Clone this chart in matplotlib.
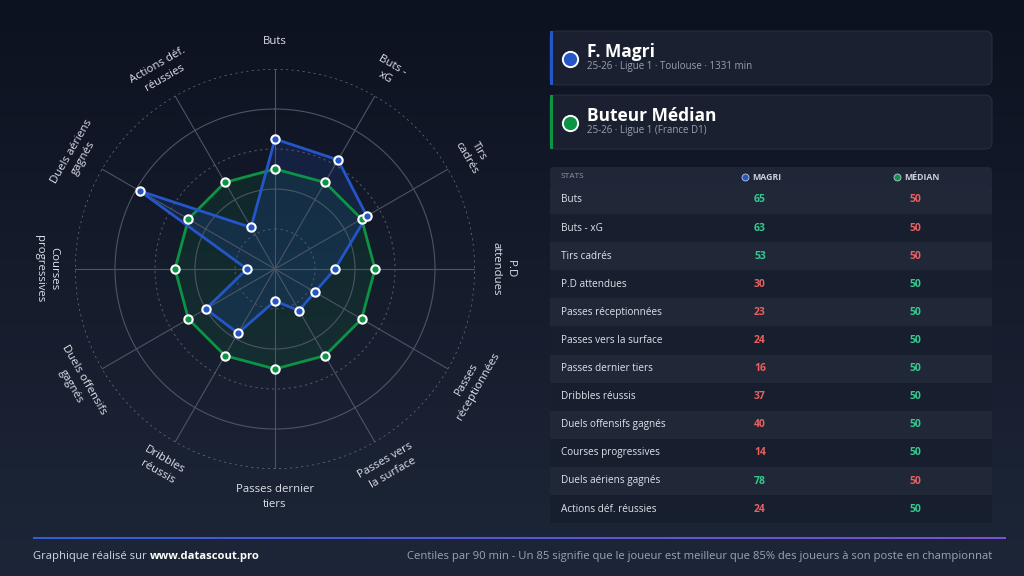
import numpy as np
import matplotlib
matplotlib.use("Agg")
import matplotlib.pyplot as plt
from matplotlib.patches import FancyBboxPatch, Rectangle
from matplotlib.colors import LinearSegmentedColormap

plt.rcParams['font.family'] = ['Open Sans', 'DejaVu Sans']

# data
stats = ["Buts", "Buts - xG", "Tirs cadrés", "P.D attendues", "Passes réceptionnées",
         "Passes vers la surface", "Passes dernier tiers", "Dribbles réussis",
         "Duels offensifs gagnés", "Courses progressives", "Duels aériens gagnés",
         "Actions déf. réussies"]
radar_labels = ["Buts", "Buts -\nxG", "Tirs\ncadrés", "P.D\nattendues", "Passes\nréceptionnées",
                "Passes vers\nla surface", "Passes dernier\ntiers", "Dribbles\nréussis",
                "Duels offensifs\ngagnés", "Courses\nprogressives", "Duels aériens\ngagnés",
                "Actions déf.\nréussies"]
magri = [65, 63, 53, 30, 23, 24, 16, 37, 40, 14, 78, 24]
median = [50, 50, 50, 50, 50, 50, 50, 50, 50, 50, 50, 50]

BLUE = "#2456c8"
GREEN = "#0b9444"
POS = "#35c98f"
NEG = "#e8605f"
GRID = "#4c5465"

W, H = 1024, 576
fig = plt.figure(figsize=(W / 100, H / 100), dpi=100)

# background gradient
bg = fig.add_axes([0, 0, 1, 1], zorder=0)
bg_cmap = LinearSegmentedColormap.from_list("bg", ["#0d1220", "#1d2638"])
bg.imshow(np.linspace(0, 1, 256).reshape(-1, 1), cmap=bg_cmap, aspect="auto",
          extent=[0, 1, 0, 1], origin="upper")
bg.set_axis_off()

# radar
ax = fig.add_axes([75 / W, (H - 469) / H, 400 / W, 400 / H], projection="polar", zorder=1)
ax.patch.set_alpha(0)
ax.set_theta_offset(np.pi / 2)
ax.set_theta_direction(-1)
ax.set_ylim(0, 100)
ax.grid(False)
ax.spines["polar"].set_visible(False)
ax.set_xticks([])
ax.set_yticks([])

n = len(stats)
angles = np.arange(n) * 2 * np.pi / n
tt = np.linspace(0, 2 * np.pi, 400)
for r in [20, 40, 60, 80, 100]:
    if r % 40 == 0:
        ax.plot(tt, [r] * len(tt), color=GRID, lw=0.8)
    elif r == 100:
        ax.plot(tt, [r] * len(tt), color="#6a7283", lw=1.0, ls=(0, (1.5, 2.5)))
    else:
        ax.plot(tt, [r] * len(tt), color=GRID, lw=0.8, ls=(0, (2, 3)))
for a in angles:
    ax.plot([a, a], [0, 100], color=GRID, lw=0.8)

ang_c = np.append(angles, angles[0])
med_c = np.append(median, median[0])
mag_c = np.append(magri, magri[0])
ax.fill(ang_c, med_c, color=GREEN, alpha=0.13, lw=0)
ax.fill(ang_c, mag_c, color=BLUE, alpha=0.17, lw=0)
ax.plot(ang_c, med_c, color=GREEN, lw=2)
ax.plot(ang_c, mag_c, color=BLUE, lw=2)
ax.plot(angles, median, 'o', ms=6, mfc=GREEN, mec="white", mew=1.5, ls="none")
ax.plot(angles, magri, 'o', ms=6, mfc=BLUE, mec="white", mew=1.5, ls="none")

for a, lab in zip(angles, radar_labels):
    theta = 90 - np.degrees(a)
    theta = (theta + 180) % 360 - 180
    rot = theta - 90 if theta >= 0 else theta + 90
    if abs(theta) == 180:
        rot = -90
    ax.text(a, 114, lab, rotation=rot, rotation_mode="anchor", ha="center", va="center",
            color="#dde1e9", fontsize=8.2, linespacing=1.4, clip_on=False)

# overlay in pixel coordinates
ov = fig.add_axes([0, 0, 1, 1], zorder=2)
ov.set_xlim(0, W)
ov.set_ylim(H, 0)
ov.patch.set_alpha(0)
ov.set_axis_off()

cards = [("F. Magri", "25-26 · Ligue 1 · Toulouse · 1331 min", BLUE, 31),
         ("Buteur Médian", "25-26 · Ligue 1 (France D1)", GREEN, 95)]
for title, sub, col, y0 in cards:
    ov.add_patch(FancyBboxPatch((550, y0), 442, 54, boxstyle="round,pad=0,rounding_size=7",
                                fc="#1a2030", ec="#262d3d", lw=0.8))
    ov.add_patch(Rectangle((550, y0), 3, 54, fc=col, ec="none"))
    ov.plot(570, y0 + 28, 'o', ms=11, mfc=col, mec="white", mew=1.4)
    ov.text(587, y0 + 21, title, color="white", fontsize=12.5, fontweight="bold", va="center")
    ov.text(587, y0 + 36, sub, color="#98a0b0", fontsize=7, va="center")

# table
ov.add_patch(FancyBboxPatch((550, 167), 442, 20, boxstyle="round,pad=0,rounding_size=4",
                            fc="#1f2637", ec="none"))
ov.text(561, 176.5, "STATS", color="#8e96a6", fontsize=6, va="center")
ov.plot(745, 177, 'o', ms=5, mfc=BLUE, mec="#c0c8d8", mew=0.6)
ov.text(752, 177, "MAGRI", color="#c9cfdb", fontsize=6.3, fontweight="bold", va="center")
ov.plot(897, 177, 'o', ms=5, mfc=GREEN, mec="#c0c8d8", mew=0.6)
ov.text(904, 177, "MÉDIAN", color="#c9cfdb", fontsize=6.3, fontweight="bold", va="center")

row_h = 28.1
for i, (s, m, d) in enumerate(zip(stats, magri, median)):
    yc = 200 + i * row_h
    fc = "#202838" if i % 2 == 0 else "#171e2d"
    ov.add_patch(Rectangle((550, yc - row_h / 2), 442, row_h, fc=fc, ec="none"))
    ov.text(561, yc, s, color="#dde2ea", fontsize=7.2, va="center")
    ov.text(760, yc, str(m), color=POS if m > d else NEG, fontsize=7.5,
            fontweight="bold", ha="center", va="center")
    ov.text(915, yc, str(d), color=POS if d > m else NEG, fontsize=7.5,
            fontweight="bold", ha="center", va="center")

# footer
line_cmap = LinearSegmentedColormap.from_list("ln", ["#2f5fd8", "#7a4fd8"])
ov.imshow(np.linspace(0, 1, 256).reshape(1, -1), cmap=line_cmap, aspect="auto",
          extent=[33, 1006, 539.5, 537.5])
ov.set_xlim(0, W)
ov.set_ylim(H, 0)

t1 = ov.text(33, 556, "Graphique réalisé sur ", color="#d0d5df", fontsize=8.1, va="center")
fig.canvas.draw()
bb = t1.get_window_extent(renderer=fig.canvas.get_renderer())
ov.text(bb.x1, H - 556, "www.datascout.pro", color="white", fontsize=8.1,
        fontweight="bold", va="center", transform=None)
ov.text(992, 556, "Centiles par 90 min - Un 85 signifie que le joueur est meilleur que 85% "
        "des joueurs à son poste en championnat", color="#9ba3b3", fontsize=8.1,
        ha="right", va="center")

fig.savefig("out.png", dpi=100, facecolor="#0d1220")
